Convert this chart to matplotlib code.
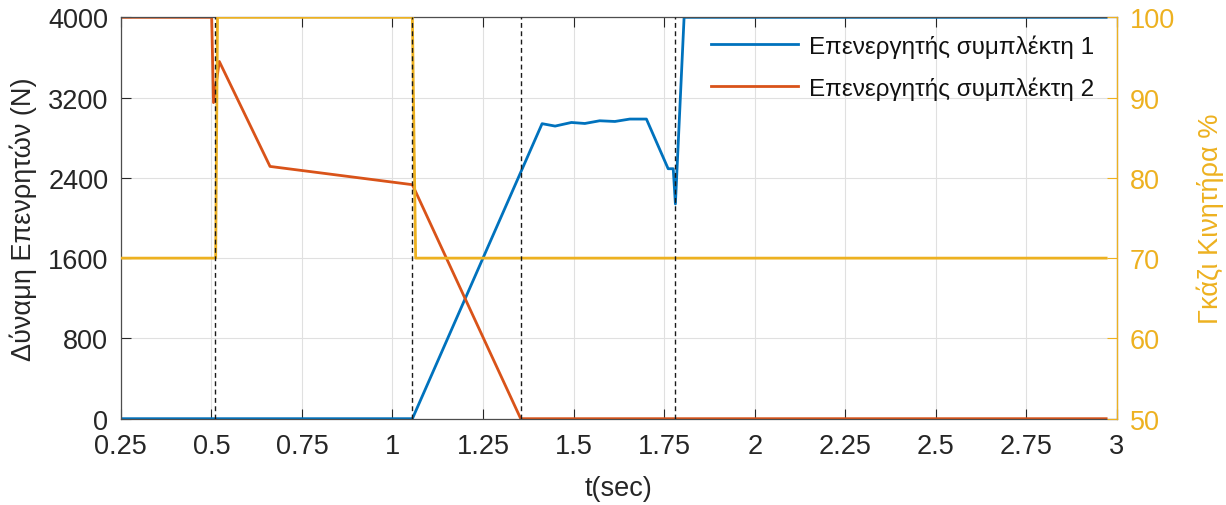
import matplotlib
matplotlib.use("Agg")
import matplotlib.pyplot as plt
from matplotlib.ticker import FormatStrFormatter

plt.rcParams['font.family'] = ['Liberation Sans', 'DejaVu Sans']

# Clutch actuator 1 force (N)
t_act1 = [0.25, 1.055, 1.413, 1.449, 1.494, 1.531, 1.572, 1.614, 1.655, 1.701,
          1.761, 1.775, 1.781, 1.805, 2.97]
f_act1 = [0, 0, 2940, 2916, 2952, 2942, 2969, 2962, 2986, 2986,
          2491, 2491, 2140, 4000, 4000]

# Clutch actuator 2 force (N)
t_act2 = [0.25, 0.501, 0.506, 0.522, 0.662, 1.055, 1.354, 2.97]
f_act2 = [4000, 4000, 3150, 3560, 2514, 2332, 0, 0]

# Engine throttle (%)
t_thr = [0.25, 0.512, 0.517, 1.055, 1.064, 2.97]
thr = [70, 70, 100, 100, 70, 70]

# Switching instants
events = [0.509, 1.055, 1.354, 1.781]

xticks = [0.25, 0.5, 0.75, 1, 1.25, 1.5, 1.75, 2, 2.25, 2.5, 2.75, 3]
yticks_left = [0, 800, 1600, 2400, 3200, 4000]
yticks_right = [50, 60, 70, 80, 90, 100]

BLUE = '#0072BD'
ORANGE = '#D95319'
YELLOW = '#EDB120'
DARK = '#262626'
FS = 19.5
LW = 2.0

fig = plt.figure(figsize=(12.26, 5.06), dpi=100)
ax = fig.add_axes([0.0985, 0.1706, 0.9111 - 0.0985, 0.9638 - 0.1706])
ax2 = ax.twinx()

l1, = ax.plot(t_act1, f_act1, color=BLUE, lw=LW, label='Επενεργητής συμπλέκτη 1')
l2, = ax.plot(t_act2, f_act2, color=ORANGE, lw=LW, label='Επενεργητής συμπλέκτη 2')
ax2.plot(t_thr, thr, color=YELLOW, lw=LW)
for ev in events:
    ax2.axvline(ev, color='#1a1a1a', lw=1.0, ls=(0, (3.5, 2.5)))

ax.set_xlim(0.25, 3)
ax.set_ylim(0, 4000)
ax2.set_ylim(50, 100)
ax.set_xticks(xticks)
ax.set_yticks(yticks_left)
ax2.set_yticks(yticks_right)
ax.xaxis.set_major_formatter(FormatStrFormatter('%g'))

ax.grid(True, color='#e0e0e0', lw=0.8)
ax.set_axisbelow(True)

ax.tick_params(axis='both', direction='in', length=7, width=0.8, colors=DARK,
               labelsize=FS, top=True, pad=9)
ax.tick_params(axis='x', pad=10)
ax2.tick_params(axis='y', direction='in', length=7, width=0.8, colors=YELLOW,
                labelsize=FS, pad=9)

for side in ['left', 'bottom', 'top']:
    ax.spines[side].set_color('#4d4d4d')
    ax.spines[side].set_linewidth(0.9)
for side in ['left', 'bottom', 'top']:
    ax2.spines[side].set_visible(False)
ax2.spines['right'].set_color(YELLOW)
ax2.spines['right'].set_linewidth(0.9)

ax.set_xlabel('t(sec)', fontsize=FS, color=DARK, labelpad=12)
ax.set_ylabel('Δύναμη Επενρητών (N)', fontsize=FS, color=DARK, labelpad=8)
ax2.set_ylabel('Γκάζι Κινητήρα %', fontsize=FS, color=YELLOW, rotation=90,
               labelpad=16)

leg = ax2.legend([l1, l2], [l1.get_label(), l2.get_label()], loc='upper right',
                 frameon=False, fontsize=17.5, handlelength=3.6,
                 bbox_to_anchor=(0.999, 1.012), labelspacing=0.75,
                 handletextpad=0.45)
for txt in leg.get_texts():
    txt.set_color('#111111')

fig.savefig('out.png', dpi=100)
